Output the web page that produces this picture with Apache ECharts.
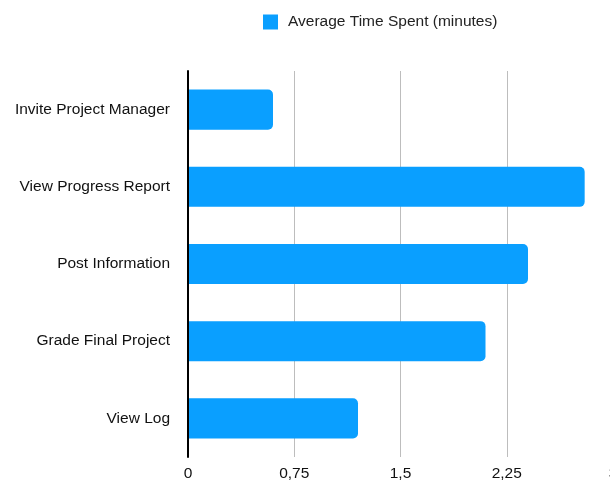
<!DOCTYPE html>
<html>
<head>
<meta charset="utf-8">
<script src="https://cdn.jsdelivr.net/npm/echarts@6/dist/echarts.min.js"></script>
<style>
  html, body { margin: 0; padding: 0; background: #fff; }
  #chart { width: 610px; height: 482px; }
</style>
</head>
<body>
<div id="chart"></div>
<script>
  // data
  var categories = ['Invite Project Manager', 'View Progress Report', 'Post Information', 'Grade Final Project', 'View Log'];
  var timeSpent = [0.6, 2.8, 2.4, 2.1, 1.2];
  var seriesName = 'Average Time Spent (minutes)';

  var chart = echarts.init(document.getElementById('chart'));
  var font = '"Liberation Sans", Arial, Helvetica, sans-serif';

  chart.setOption({
    animation: false,
    textStyle: { fontFamily: font },
    legend: {
      data: [seriesName],
      top: 14,
      left: 263,
      padding: 0,
      itemWidth: 15,
      itemHeight: 15,
      icon: 'rect',
      textStyle: { fontSize: 15.5, color: '#222', fontFamily: font, padding: [2, 0, 0, 5] }
    },
    grid: {
      left: 188,
      top: 71,
      right: -3,
      height: 386,
      outerBoundsMode: 'none',
      containLabel: false
    },
    xAxis: {
      type: 'value',
      min: 0,
      max: 3,
      interval: 0.75,
      axisLine: { show: false },
      axisTick: { show: false },
      splitLine: { show: true, lineStyle: { color: '#bdbdbd', width: 1 } },
      axisLabel: {
        fontSize: 15.5,
        color: '#111',
        margin: 9,
        fontFamily: font,
        formatter: function (v) { return String(v).replace('.', ','); }
      }
    },
    yAxis: {
      type: 'category',
      data: categories,
      inverse: true,
      z: 10,
      axisLine: { show: true, lineStyle: { color: '#000', width: 2 } },
      axisTick: { show: false },
      axisLabel: { fontSize: 15.5, color: '#111', margin: 18, fontFamily: font }
    },
    series: [{
      name: seriesName,
      type: 'bar',
      data: timeSpent,
      barCategoryGap: '48%',
      itemStyle: { color: '#0A9FFF', borderRadius: [0, 5, 5, 0] }
    }]
  });
</script>
</body>
</html>
